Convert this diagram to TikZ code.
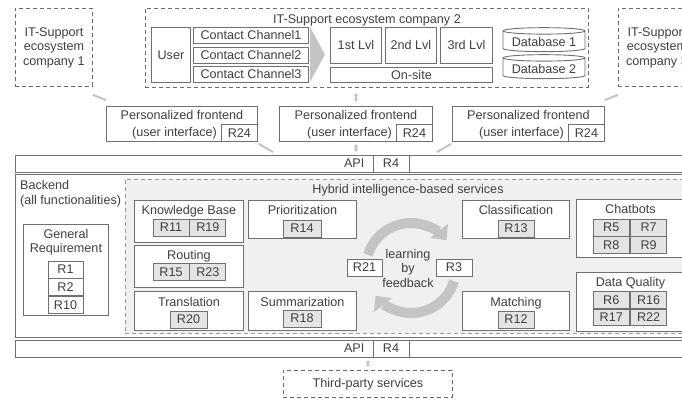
\documentclass[tikz,border=0pt]{standalone}
\usepackage{fontspec}
\setmainfont{Liberation Sans}
\usetikzlibrary{positioning,shapes.geometric,arrows.meta}

\definecolor{lineC}{HTML}{707070}
\definecolor{textC}{HTML}{404040}
\definecolor{dashC}{HTML}{6A6A6A}
\definecolor{hybLineC}{HTML}{9A9A9A}
\definecolor{hybFillC}{HTML}{F0F0F0}
\definecolor{reqFillC}{HTML}{E4E4E4}
\definecolor{arrowC}{HTML}{C4C4C4}

\tikzset{
  every node/.style={font=\fontsize{12.6pt}{14.5pt}\selectfont, text=textC},
  box/.style={draw=lineC, fill=white, line width=0.9pt, inner sep=0pt, anchor=north west},
  dbox/.style={draw=dashC, line width=0.9pt, dash pattern=on 4pt off 3pt, inner sep=0pt, anchor=north west},
  rbox/.style={draw=lineC, fill=reqFillC, line width=0.9pt, inner sep=0pt, minimum width=36pt, minimum height=17pt},
  wbox/.style={rbox, fill=white},
  label/.style={inner sep=0pt},
  db/.style={cylinder, shape border rotate=90, aspect=0.1, draw=lineC, fill=white, line width=0.9pt,
    inner sep=0pt, minimum width=82pt, minimum height=24pt},
  link/.style={draw=arrowC, line width=2pt},
  dlink/.style={draw=arrowC, line width=1.6pt, {Latex[length=3pt,width=5pt]}-{Latex[length=3pt,width=5pt]}},
  cycle/.style={draw=arrowC, line width=10pt, -{Triangle[length=12pt,width=22pt]}},
}

\begin{document}
\begin{tikzpicture}[x=1pt, y=-1pt]
  \useasboundingbox (0,0) rectangle (682,400);
  \clip (0,0) rectangle (682,400);

  % IT-Support ecosystems
  \node[dbox, minimum width=77pt, minimum height=78pt, align=center] (comp1) at (15,8) {IT-Support\\ecosystem\\company 1};
  \node[dbox, minimum width=443pt, minimum height=79pt] (comp2) at (145,8) {};
  \node[dbox, minimum width=77pt, minimum height=78pt, align=center] (comp3) at (618,8) {IT-Support\\ecosystem\\company 3};
  \node[label, below=6pt of comp2.north] (comp2title) {IT-Support ecosystem company 2};

  % User and contact channels
  \node[box, minimum width=39pt, minimum height=55pt] (user) at (151,27) {User};
  \node[box, minimum width=115pt, minimum height=16pt] (ch1) at (193,27) {Contact Channel1};
  \node[box, minimum width=115pt, minimum height=16pt] (ch2) at (193,46.5) {Contact Channel2};
  \node[box, minimum width=115pt, minimum height=16pt] (ch3) at (193,66) {Contact Channel3};
  \fill[arrowC] (310,27) -- (325,54.5) -- (310,82) -- cycle;

  % Support levels
  \node[box, minimum width=51pt, minimum height=36pt] (lvl1) at (330,27) {1st Lvl};
  \node[box, minimum width=51pt, minimum height=36pt] (lvl2) at (385,27) {2nd Lvl};
  \node[box, minimum width=52pt, minimum height=36pt] (lvl3) at (440,27) {3rd Lvl};
  \node[box, minimum width=162pt, minimum height=15pt] (onsite) at (330,67) {On-site};

  % Databases
  \node[db] (db1) at (544,41.5) {Database 1};
  \node[db] (db2) at (544,68.5) {Database 2};

  % Personalized frontends
  \foreach \n/\x/\w in {1/106/151, 2/279/153, 3/452/152} {
    \node[box, minimum width=\w pt, minimum height=35pt] (fe\n) at (\x,106) {};
    \node[wbox, anchor=south east] (fe\n r) at (fe\n.south east) {R24};
    \node[label, left=4pt of fe\n r] (fe\n ui) {(user interface)};
    \node[label, below=4.5pt of fe\n.north] (fe\n t) {Personalized frontend};
  }

  % API (top)
  \node[box, minimum width=700pt, minimum height=17pt] (api) at (15,155) {};
  \node[wbox] (apiR) at (391,163.5) {R4};
  \node[label, left=8pt of apiR] (apiT) {API};

  % Backend
  \node[box, minimum width=700pt, minimum height=163pt] (backend) at (15,174) {};
  \node[label, anchor=north west, align=left] (backendT) at (20,180.5) {Backend\\(all functionalities)};

  % General requirements
  \node[box, minimum width=85pt, minimum height=91pt] (general) at (23,224) {};
  \node[label, below=5pt of general.north, align=center] (generalT) {General\\Requirement};
  \node[wbox, minimum width=35pt] (r1) at (65.5,269.5) {R1};
  \node[wbox, minimum width=35pt, below=0pt of r1] (r2) {R2};
  \node[wbox, minimum width=35pt, below=0pt of r2] (r10) {R10};

  % Hybrid intelligence-based services
  \node[dbox, draw=hybLineC, fill=hybFillC, minimum width=570pt, minimum height=154pt] (hybrid) at (125,179) {};
  \node[label, anchor=north] (hybridT) at (408,184.5) {Hybrid intelligence-based services};

  \node[box, minimum width=109pt, minimum height=42pt] (kb) at (134,200) {};
  \node[label, below=5pt of kb.north] (kbT) {Knowledge Base};
  \node[rbox] (r11) at (171,227.5) {R11};
  \node[rbox, right=0pt of r11] (r19) {R19};

  \node[box, minimum width=109pt, minimum height=42pt] (routing) at (134,245) {};
  \node[label, below=5pt of routing.north] (routingT) {Routing};
  \node[rbox] (r15) at (171,272) {R15};
  \node[rbox, right=0pt of r15] (r23) {R23};

  \node[box, minimum width=109pt, minimum height=39pt] (transl) at (134,291) {};
  \node[label, below=6pt of transl.north] (translT) {Translation};
  \node[rbox, minimum width=37pt] (r20) at (188.5,319.5) {R20};

  \node[box, minimum width=108pt, minimum height=38pt] (prio) at (248,200) {};
  \node[label, below=5pt of prio.north] (prioT) {Prioritization};
  \node[rbox, minimum width=38pt] (r14) at (302,228.5) {R14};

  \node[box, minimum width=108pt, minimum height=39pt] (summ) at (248,291) {};
  \node[label, below=6pt of summ.north] (summT) {Summarization};
  \node[rbox, minimum width=38pt] (r18) at (302,318.5) {R18};

  \node[box, minimum width=107pt, minimum height=38pt] (classif) at (462,200) {};
  \node[label, below=5pt of classif.north] (classifT) {Classification};
  \node[rbox] (r13) at (516,228.5) {R13};

  \node[box, minimum width=107pt, minimum height=39pt] (matching) at (462,291) {};
  \node[label, below=6pt of matching.north] (matchingT) {Matching};
  \node[rbox] (r12) at (516,319.5) {R12};

  \node[box, minimum width=108pt, minimum height=58pt] (chatbots) at (576,199) {};
  \node[label, below=5pt of chatbots.north] (chatbotsT) {Chatbots};
  \node[rbox, minimum width=36.5pt] (r5) at (611.25,227.5) {R5};
  \node[rbox, minimum width=36.5pt, right=0pt of r5] (r7) {R7};
  \node[rbox, minimum width=36.5pt, below=0pt of r5] (r8) {R8};
  \node[rbox, minimum width=36.5pt, below=0pt of r7] (r9) {R9};

  \node[box, minimum width=108pt, minimum height=59pt] (dq) at (576,272) {};
  \node[label, below=5pt of dq.north] (dqT) {Data Quality};
  \node[rbox, minimum width=36.5pt, minimum height=16.5pt] (r6) at (611.25,300) {R6};
  \node[rbox, minimum width=36.5pt, minimum height=16.5pt, right=0pt of r6] (r16) {R16};
  \node[rbox, minimum width=36.5pt, minimum height=16.5pt, below=0pt of r6] (r17) {R17};
  \node[rbox, minimum width=36.5pt, minimum height=16.5pt, below=0pt of r16] (r22) {R22};

  % Learning by feedback
  \coordinate (loop) at (411,268);
  \draw[cycle] ([shift={(-163:45)}]loop) arc (-163:-38:45);
  \draw[cycle] ([shift={(17:45)}]loop) arc (17:142:45);
  \node[wbox, minimum width=35pt] (r21) at (364.5,267.5) {R21};
  \node[wbox] (r3) at (454,267.5) {R3};
  \node[label, align=center] (learn) at (408,268) {learning\\by\\feedback};

  % API (bottom) and third-party services
  \node[box, minimum width=700pt, minimum height=17pt] (api2) at (15,340) {};
  \node[wbox] (api2R) at (391,348.5) {R4};
  \node[label, left=8pt of api2R] (api2T) {API};
  \node[dbox, minimum width=169pt, minimum height=27pt] (third) at (283,370) {Third-party services};

  % Connections
  \draw[link] ([yshift=-8pt]comp1.south east) -- ([yshift=6pt]fe1.north west);
  \draw[link] ([yshift=-8pt]comp3.south west) -- ([yshift=6pt]fe3.north east);
  \draw[dlink] ([yshift=-5pt]fe2.north |- comp2.south) -- ([yshift=4pt]fe2.north);
  \draw[link] ([shift={(1pt,-2pt)}]fe1.south east) -- ([xshift=15pt,yshift=3pt]fe1.south east |- api.north);
  \draw[link] ([shift={(-1pt,-2pt)}]fe3.south west) -- ([xshift=-15pt,yshift=3pt]fe3.south west |- api.north);
  \draw[dlink] ([yshift=-2pt]fe2.south) -- ([yshift=3pt]fe2.south |- api.north);
  \draw[dlink] ([yshift=-2pt]third.north |- api2.south) -- ([yshift=3pt]third.north);
\end{tikzpicture}
\end{document}
